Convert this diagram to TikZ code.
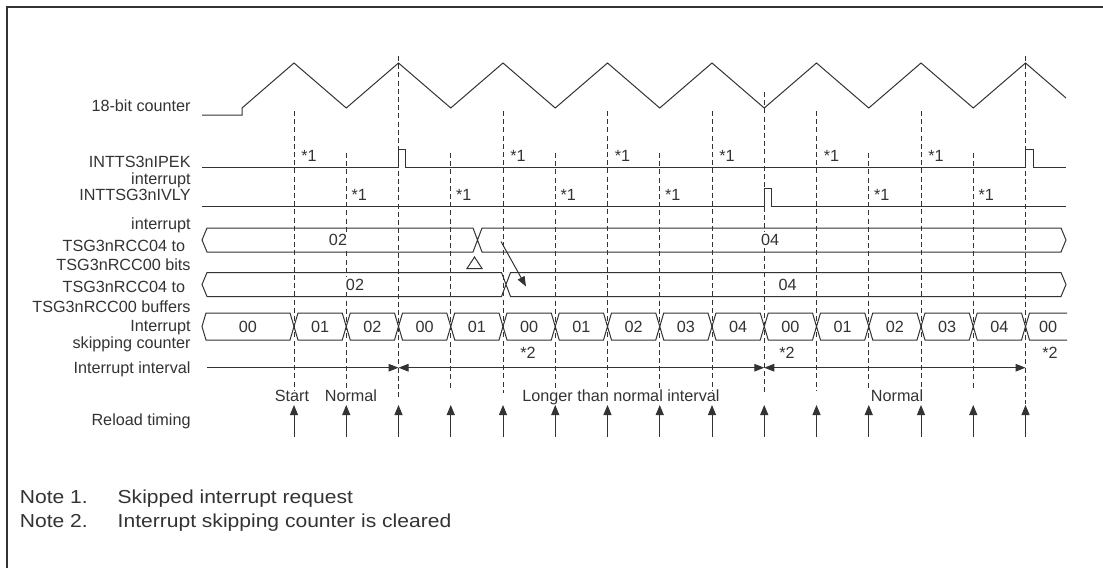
\documentclass[tikz,border=0pt]{standalone}
\usepackage{fontspec}
\setmainfont{Liberation Sans}
\usepackage{graphicx}
\usepackage{tikz}
\usetikzlibrary{arrows.meta}
\definecolor{ink}{HTML}{333333}
\newcommand{\notewide}[1]{\scalebox{1.12}[1]{#1}}
\tikzset{
  % waveform and bus outlines
  wave/.style={draw=ink, line width=0.5pt},
  % dashed timing guides
  guide/.style={draw=ink, line width=0.5pt, dash pattern=on 2.5pt off 1.6pt},
  % row labels on the left
  rowlbl/.style={anchor=base east, inner sep=0pt, text=ink},
  % values inside the buses
  busval/.style={inner sep=1pt, fill=white, text=ink},
  % footnote marks
  fnmark/.style={anchor=west, inner sep=0pt, text=ink},
  % plain captions
  capt/.style={anchor=base, inner sep=0pt, text=ink},
  % notes below the chart
  notetxt/.style={anchor=base west, inner sep=0pt, text=ink,
                  font=\fontsize{9.4}{11}\selectfont},
  % interval and reload arrows
  ivlr/.style={wave, -{Triangle[length=5pt,width=3.8pt]}},
  ivl/.style={wave, {Triangle[length=5pt,width=3.8pt]}-{Triangle[length=5pt,width=3.8pt]}},
  reload/.style={wave, -{Triangle[length=5pt,width=4pt]}},
}

\begin{document}
\begin{tikzpicture}[x=0.5pt, y=-0.5pt, font=\fontsize{8.1}{9.7}\selectfont]
\useasboundingbox (0,0) rectangle (1103,568);

% ── Frame ───────────────────────────────────────────────────────────────────
\draw[draw=ink, line width=1pt] (7,568) -- (7,7) -- (1103,7);

% ── Row labels ──────────────────────────────────────────────────────────────
\node[rowlbl] (lcnt)   at (191,111)   {18-bit counter};
\node[rowlbl] (lipek)  at (191,167.7) {INTTS3nIPEK};
\node[rowlbl] (lipek2) at (191,184)   {interrupt};
\node[rowlbl] (livly)  at (191,200)   {INTTSG3nIVLY};
\node[rowlbl] (livly2) at (191,229)   {interrupt};
\node[rowlbl] (lbits)  at (185.5,251.7) {TSG3nRCC04 to};
\node[rowlbl] (lbits2) at (191,270)   {TSG3nRCC00 bits};
\node[rowlbl] (lbuf)   at (185.5,292) {TSG3nRCC04 to};
\node[rowlbl] (lbuf2)  at (191,312)   {TSG3nRCC00 buffers};
\node[rowlbl] (lskip)  at (191,331.7) {Interrupt};
\node[rowlbl] (lskip2) at (191,348.3) {skipping counter};
\node[rowlbl] (lint)   at (191,373.7) {Interrupt interval};
\node[rowlbl] (lrel)   at (191,425)   {Reload timing};

% ── Timing guides ───────────────────────────────────────────────────────────
\foreach \x/\y/\e in {294/111/390, 346.25/153/390, 398.5/56/400,
    450.75/153/390, 503/111/393, 555.25/153/390, 607.5/111/388,
    659.75/153/390, 712/111/390, 764.25/92/393, 816.5/111/390,
    868.75/153/388, 921/111/388, 973.25/153/388, 1025.5/56/404}
  \draw[guide] (\x,\y) -- (\x,\e);

% ── 18-bit counter ──────────────────────────────────────────────────────────
\draw[wave] (202,115) -- (242,115) -- (242,108) -- (294,63) -- (346.25,108)
  -- (398.5,63) -- (450.75,108) -- (503,63) -- (555.25,108) -- (607.5,63)
  -- (659.75,108) -- (712,63) -- (764.25,108) -- (816.5,63) -- (868.75,108)
  -- (921,63) -- (973.25,108) -- (1025.5,63) -- (1066,98);

% ── Interrupt lines ─────────────────────────────────────────────────────────
\draw[wave] (202,167.5) -- (398.5,167.5) -- (398.5,149) -- (405,149)
  -- (405,167.5) -- (1025.5,167.5) -- (1025.5,149) -- (1033,149)
  -- (1033,167.5) -- (1066,167.5);
\draw[wave] (202,206.7) -- (764.25,206.7) -- (764.25,188) -- (771.5,188)
  -- (771.5,206.7) -- (1066,206.7);

% skipped requests
\node[fnmark] (s1a) at (301,156)    {*1};
\node[fnmark] (s1b) at (510,156)    {*1};
\node[fnmark] (s1c) at (614.5,156)  {*1};
\node[fnmark] (s1d) at (719,156)    {*1};
\node[fnmark] (s1e) at (823.5,156)  {*1};
\node[fnmark] (s1f) at (928,156)    {*1};
\node[fnmark] (s2a) at (351.25,195) {*1};
\node[fnmark] (s2b) at (455.75,195) {*1};
\node[fnmark] (s2c) at (560.25,195) {*1};
\node[fnmark] (s2d) at (664.75,195) {*1};
\node[fnmark] (s2e) at (873.75,195) {*1};
\node[fnmark] (s2f) at (978.25,195) {*1};

% ── RCC bits / buffers ──────────────────────────────────────────────────────
\draw[wave] (473,228) -- (207,228) -- (202,240) -- (207,252) -- (473,252)
  -- (482,228) -- (1061,228) -- (1066,240) -- (1061,252) -- (482,252) -- cycle;
\node[busval] (bits02) at (338,240) {02};
\node[busval] (bits04) at (770,240) {04};
\draw[wave] (467,268.5) -- (474.5,257) -- (482,268.5) -- cycle;

\draw[wave] (501.5,272.5) -- (207,272.5) -- (202,284.5) -- (207,296.5)
  -- (501.5,296.5) -- (510.5,272.5) -- (1061,272.5) -- (1066,284.5)
  -- (1061,296.5) -- (510.5,296.5) -- cycle;
\node[busval] (buf02) at (355,284.5)   {02};
\node[busval] (buf04) at (787.7,284.5) {04};

\coordinate (cpyA) at (501,241.5);
\coordinate (cpyB) at (526,286.5);
\draw[ivlr] (cpyA) -- (cpyB);

% ── Interrupt skipping counter ──────────────────────────────────────────────
\foreach \a/\b/\v [count=\k] in {202/294/00, 294/346.25/01, 346.25/398.5/02,
    398.5/450.75/00, 450.75/503/01, 503/555.25/00, 555.25/607.5/01,
    607.5/659.75/02, 659.75/712/03, 712/764.25/04, 764.25/816.5/00,
    816.5/868.75/01, 868.75/921/02, 921/973.25/03, 973.25/1025.5/04} {
  \draw[wave] (\a,326.5) -- (\a+4,313) -- (\b-4,313) -- (\b,326.5)
    -- (\b-4,340) -- (\a+4,340) -- cycle;
  \node[busval] (skip\k) at ({(\a+\b)/2},326.5) {\v};
}
\draw[wave] (1067,313) -- (1029.5,313) -- (1025.5,326.5) -- (1029.5,340)
  -- (1067,340);
\node[busval] (skip16) at (1048,326.5) {00};

% cleared
\node[busval] (clr1) at (528,353)  {*2};
\node[busval] (clr2) at (787,353)  {*2};
\node[busval] (clr3) at (1050,353) {*2};

% ── Interrupt interval ──────────────────────────────────────────────────────
\coordinate (iv0) at (207,367.7);
\coordinate (iv1) at (398.5,367.7);
\coordinate (iv2) at (764.25,367.7);
\coordinate (iv3) at (1025.5,367.7);
\draw[ivlr] (iv0) -- (iv1);
\draw[ivl] (iv1) -- (iv2);
\draw[ivl] (iv2) -- (iv3);

\node[capt] (tstart)  at (292,401.7) {Start};
\node[capt] (tnorm1)  at (351,401.7) {Normal};
\node[capt] (tlonger) at (621,401.7) {Longer than normal interval};
\node[capt] (tnorm2)  at (897,401.7) {Normal};

% ── Reload timing ───────────────────────────────────────────────────────────
\foreach \x [count=\k] in {294, 346.25, 398.5, 450.75, 503, 555.25, 607.5,
    659.75, 712, 764.25, 816.5, 868.75, 921, 973.25, 1025.5} {
  \coordinate (rb\k) at (\x,437);
  \coordinate (rt\k) at (\x,405);
  \draw[reload] (rb\k) -- (rt\k);
}

% ── Notes ───────────────────────────────────────────────────────────────────
\node[notetxt] (n1)  at (19.5,503.5)  {\notewide{Note 1.}};
\node[notetxt] (n1t) at (117.3,503.5) {\notewide{Skipped interrupt request}};
\node[notetxt] (n2)  at (19.5,527.5)  {\notewide{Note 2.}};
\node[notetxt] (n2t) at (117.3,527.5) {\notewide{Interrupt skipping counter is cleared}};

\end{tikzpicture}
\end{document}
